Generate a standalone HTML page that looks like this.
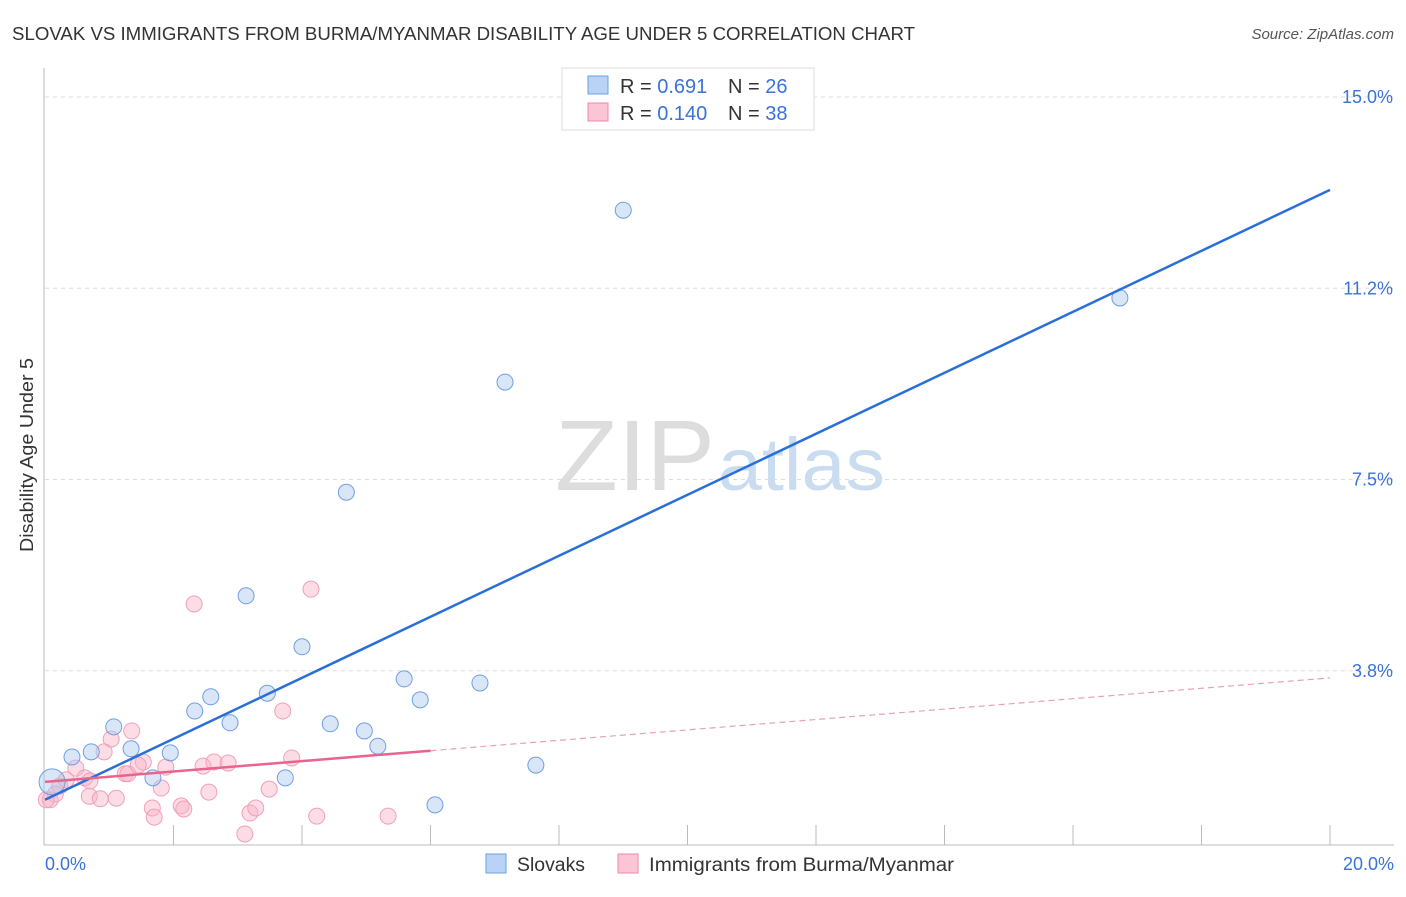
<!DOCTYPE html>
<html><head><meta charset="utf-8"><style>
body{margin:0;background:#fff;font-family:"Liberation Sans",sans-serif}
svg text{font-family:"Liberation Sans",sans-serif}
</style></head><body>
<svg id="c" width="1406" height="892" xmlns="http://www.w3.org/2000/svg">
<text x="12" y="40" font-size="18" fill="#333" textLength="903" lengthAdjust="spacingAndGlyphs">SLOVAK VS IMMIGRANTS FROM BURMA/MYANMAR DISABILITY AGE UNDER 5 CORRELATION CHART</text>
<text x="1394" y="39" font-size="15" fill="#555" text-anchor="end" font-style="italic">Source: ZipAtlas.com</text>
<text x="555" y="490" font-size="100" fill="#ddd" textLength="160" lengthAdjust="spacingAndGlyphs" font-family="Liberation Serif">ZIP</text>
<text x="718" y="490" font-size="74" fill="#c9dcf0" textLength="167" lengthAdjust="spacingAndGlyphs">atlas</text>
<g id="grid"></g><g id="axes"></g><g id="pts"></g><g id="lines"></g>
<text transform="translate(33,455) rotate(-90)" font-size="18" fill="#333" text-anchor="middle" textLength="194" lengthAdjust="spacingAndGlyphs">Disability Age Under 5</text>
<text x="45" y="870" font-size="18" fill="#3a72d8">0.0%</text>
<text x="1394" y="870" font-size="18" fill="#3a72d8" text-anchor="end">20.0%</text>
<g>
<rect x="562" y="68" width="252" height="62" fill="#fff" stroke="#ddd"/>
<rect x="588" y="76" width="20" height="18" fill="#b8d3f5" stroke="#6a9fe0"/>
<rect x="588" y="103" width="20" height="18" fill="#fac6d5" stroke="#ec8aa8"/>
<text x="620" y="93" font-size="20" fill="#333">R = <tspan fill="#3a72d8">0.691</tspan></text>
<text x="728" y="93" font-size="20" fill="#333">N = <tspan fill="#3a72d8">26</tspan></text>
<text x="620" y="120" font-size="20" fill="#333">R = <tspan fill="#3a72d8">0.140</tspan></text>
<text x="728" y="120" font-size="20" fill="#333">N = <tspan fill="#3a72d8">38</tspan></text>
</g>
<g>
<rect x="486" y="854" width="20" height="19" fill="#b8d3f5" stroke="#6a9fe0"/>
<text x="517" y="871" font-size="19" fill="#333" textLength="68" lengthAdjust="spacingAndGlyphs">Slovaks</text>
<rect x="618" y="854" width="20" height="19" fill="#fac6d5" stroke="#ec8aa8"/>
<text x="649" y="871" font-size="19" fill="#333" textLength="305" lengthAdjust="spacingAndGlyphs">Immigrants from Burma/Myanmar</text>
</g>
</svg>
<script>
const yTicks=[3.75,7.5,11.25,15];
const yTickLabels=["3.8%","7.5%","11.2%","15.0%"];
const xTicks=[0,2,4,6,8,10,12,14,16,18,20];
const blueX=[9.0,16.73,7.16,4.69,3.13,4.0,5.59,6.77,5.84,3.46,2.58,2.33,2.88,1.07,4.44,4.97,5.18,0.42,0.72,1.34,1.95,1.68,3.74,7.64,6.07,0.11];
const blueY=[12.78,11.06,9.41,7.25,5.22,4.22,3.59,3.51,3.18,3.31,3.24,2.96,2.73,2.65,2.71,2.57,2.27,2.06,2.16,2.22,2.14,1.65,1.65,1.90,1.12,1.57];
const pinkX=[2.32,4.14,3.7,1.35,1.03,0.92,0.48,0.23,0.08,0.62,0.69,0.86,1.11,1.25,1.29,1.53,1.45,1.81,1.88,1.67,1.7,2.12,2.16,2.55,2.46,2.63,2.85,3.49,3.84,3.19,3.28,3.11,4.23,5.34,0.33,0.16,0.02,0.70];
const pinkY=[5.06,5.35,2.96,2.57,2.41,2.16,1.84,1.49,1.22,1.65,1.29,1.24,1.25,1.73,1.73,1.96,1.9,1.45,1.86,1.06,0.88,1.1,1.04,1.37,1.88,1.96,1.94,1.43,2.04,0.96,1.06,0.55,0.9,0.9,1.61,1.33,1.22,1.59];
const blueFit=[1.22,13.18];
const pinkFit=[1.57,3.61];
const pinkSolidEnd=6;
const X=v=>45+v*64.25, Y=v=>862-v*51.0;
const NS="http://www.w3.org/2000/svg";
function mk(p,t,a){const e=document.createElementNS(NS,t);for(const k in a)e.setAttribute(k,a[k]);document.getElementById(p).appendChild(e);return e;}
yTicks.forEach((v,i)=>{
 const l=mk('grid','line',{x1:45,x2:1394,y1:Y(v),y2:Y(v),stroke:'#ddd','stroke-dasharray':'4,4'});
 
 
 const t=mk('grid','text',{x:1393,y:Y(v)+6,'font-size':18,fill:'#3a72d8','text-anchor':'end'});
 t.textContent=yTickLabels[i];
 
 
});
const ax=mk('axes','line',{x1:44,x2:44,y1:68,y2:845,stroke:'#bbb'});


const bx=mk('axes','line',{x1:44,x2:1394,y1:845,y2:845,stroke:'#bbb'});


xTicks.slice(1).forEach(v=>{
 const t=mk('axes','line',{x1:X(v),x2:X(v),y1:825,y2:845,stroke:'#bbb'});
 
 
});
pinkX.forEach((v,i)=>{
 const c=mk('pts','circle',{cx:X(v),cy:Y(pinkY[i]),r:8,fill:'rgba(248,180,200,0.45)',stroke:'#f0a0b8','stroke-width':1});
 
 
});
blueX.forEach((v,i)=>{
 const c=mk('pts','circle',{cx:X(v),cy:Y(blueY[i]),r:i==25?13:8,fill:'rgba(170,200,240,0.45)',stroke:'#6f9fe0','stroke-width':1});
 
 
});
const bl=mk('lines','line',{x1:X(0),y1:Y(blueFit[0]),x2:X(20),y2:Y(blueFit[1]),stroke:'#2a6fd8','stroke-width':2.5});


const pe=pinkFit[0]+(pinkFit[1]-pinkFit[0])*pinkSolidEnd/20;
const ps=mk('lines','line',{x1:X(0),y1:Y(pinkFit[0]),x2:X(pinkSolidEnd),y2:Y(pe),stroke:'#e8648e','stroke-width':2.5});


const pd=mk('lines','line',{x1:X(pinkSolidEnd),y1:Y(pe),x2:X(20),y2:Y(pinkFit[1]),stroke:'#e8a0b8','stroke-width':1.2,'stroke-dasharray':'6,4'});


</script>
</body></html>
